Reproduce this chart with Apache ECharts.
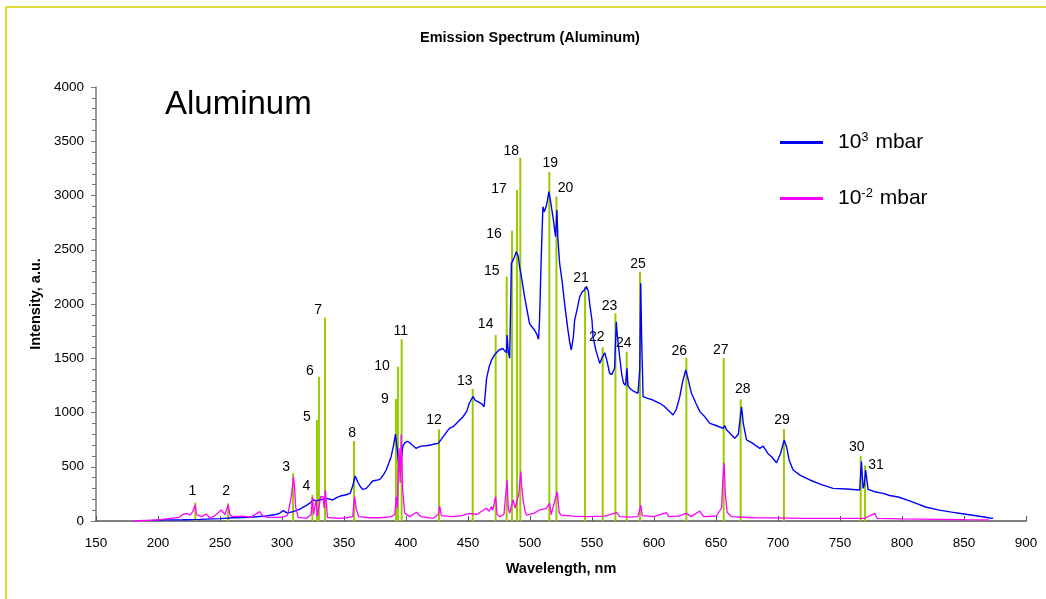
<!DOCTYPE html>
<html>
<head>
<meta charset="utf-8">
<script src="https://cdn.jsdelivr.net/npm/echarts@6/dist/echarts.min.js"></script>
<style>
  html, body { margin: 0; padding: 0; background: #fff; }
  #chart { width: 1046px; height: 599px; }
</style>
</head>
<body>
<div id="chart"></div>
<script>
// 10^3 mbar spectrum (blue)
const highWl = [195, 206, 220, 234, 250, 261, 274, 287, 295, 298, 301, 304, 309, 314, 320, 323, 325, 328, 330, 333, 336, 341, 344, 347, 351, 355, 357, 359, 361, 363, 365, 368, 371, 373, 376, 379, 382, 384, 386, 388, 390, 391.5, 393, 394.5, 396, 397.5, 399, 401, 403, 405, 408, 412, 416, 420, 422, 426, 428, 430, 435, 438, 442, 446, 449, 451, 454, 456, 458, 461, 463, 465, 467, 469, 472, 475, 478, 481, 481.5, 482.5, 483.6, 485, 487, 489, 490.5, 491.6, 493.5, 495.6, 497.5, 499.6, 501.5, 503.7, 505.5, 506.9, 507.7, 509, 510.4, 511.5, 513.1, 514, 515.2, 516.5, 518.5, 520.6, 521.7, 522.5, 523.9, 526, 527.9, 530.6, 532, 533.3, 535, 536, 538, 540.1, 542, 544, 545.5, 547, 548.1, 550, 550.8, 553, 556.2, 558, 560.2, 562, 564.2, 566, 568.2, 569.6, 570.5, 572.3, 574, 575.5, 577, 578.2, 579, 580.4, 583, 587.1, 588.5, 589.3, 590, 591.2, 595, 599.2, 604.6, 608, 611.3, 615.4, 618, 620.8, 623, 625.6, 627, 630.2, 634, 637, 641, 645, 650, 655.8, 657, 658.5, 662, 665.2, 668, 670.6, 672, 674.6, 679, 685.3, 688, 692, 695, 698.8, 702, 705, 707, 709, 712.2, 718, 725.7, 735, 744.5, 755, 765.9, 767.3, 768.6, 769.5, 770.7, 772.6, 778, 784.7, 790, 797, 805, 812, 819, 830, 840, 850, 860, 871, 873.5];
const highI = [5, 10, 12, 15, 22, 30, 34, 46, 60, 71, 95, 74, 86, 108, 147, 170, 194, 185, 194, 200, 209, 194, 215, 230, 240, 255, 322, 415, 362, 320, 292, 301, 340, 369, 375, 384, 430, 470, 530, 593, 700, 800, 650, 480, 560, 690, 720, 735, 722, 700, 670, 690, 694, 700, 707, 716, 746, 777, 854, 869, 915, 961, 1010, 1085, 1146, 1110, 1100, 1080, 1053, 1315, 1420, 1484, 1540, 1576, 1590, 1551, 1714, 1560, 1500, 2375, 2420, 2482, 2440, 2344, 2220, 2067, 1950, 1822, 1790, 1760, 1720, 1675, 1852, 2400, 2897, 2850, 2900, 2950, 3035, 2950, 2805, 2620, 2866, 2600, 2375, 2200, 2006, 1760, 1650, 1576, 1700, 1852, 1950, 2067, 2110, 2130, 2160, 2120, 2006, 1850, 1700, 1580, 1453, 1500, 1551, 1480, 1361, 1350, 1407, 1837, 1700, 1514, 1350, 1269, 1250, 1407, 1250, 1223, 1200, 1177, 1400, 2191, 1700, 1146, 1130, 1115, 1085, 1060, 1023, 977, 1030, 1146, 1280, 1392, 1330, 1177, 1080, 1008, 960, 900, 880, 854, 880, 840, 800, 762, 800, 1053, 900, 747, 720, 670, 690, 620, 590, 537, 620, 747, 680, 560, 470, 420, 378, 335, 301, 295, 286, 547, 301, 330, 470, 292, 270, 255, 235, 221, 190, 160, 129, 100, 82, 65, 48, 28, 25];

// 10^-2 mbar spectrum (magenta)
const lowWl = [180, 190, 200, 210, 217, 220, 223, 226, 228, 230, 231, 235, 239, 242, 246, 251, 254, 256.6, 258, 260, 268, 275, 282, 285, 290, 298, 302, 304.5, 307.5, 309.3, 310.2, 311, 313, 320, 323.5, 324.5, 325.5, 327.5, 328.5, 330, 331.2, 333.1, 334, 335, 336.6, 340, 346, 352, 357, 358.5, 360, 362, 370, 380, 388, 391, 392.2, 393, 394.4, 395.3, 396.2, 397.2, 399, 403, 408.4, 412, 421.8, 426, 427.2, 428.5, 437.9, 445, 451.4, 457, 464.8, 467, 468.9, 470, 472.3, 473.5, 475.6, 479, 481.5, 482.5, 483.6, 486.3, 488, 489.5, 491, 492.5, 493.5, 494.4, 496, 497.1, 503, 507.7, 513.1, 515.8, 517, 518.5, 522, 523.5, 525, 535, 545.5, 560, 570, 572.3, 580, 587, 589.3, 590.5, 600, 610, 612, 620, 626, 630, 636.9, 640, 650.3, 654.5, 655.5, 656.5, 657.5, 659, 662.4, 680, 700, 720, 750, 770, 778, 780, 800, 830, 850, 870];
const lowI = [0, 5, 10, 25, 34, 60, 71, 55, 86, 150, 60, 40, 65, 25, 50, 101, 60, 147, 60, 40, 45, 35, 86, 40, 34, 34, 40, 55, 224, 408, 300, 132, 34, 25, 60, 220, 60, 194, 40, 40, 224, 224, 120, 286, 34, 30, 25, 30, 40, 224, 101, 40, 30, 30, 40, 60, 224, 120, 670, 350, 800, 300, 71, 40, 80, 40, 25, 60, 138, 50, 40, 50, 71, 60, 117, 90, 132, 100, 224, 60, 40, 60, 378, 120, 71, 194, 120, 132, 250, 455, 300, 194, 90, 55, 70, 101, 117, 163, 60, 55, 270, 80, 55, 45, 40, 45, 77, 40, 35, 40, 147, 50, 40, 77, 40, 45, 71, 40, 92, 40, 46, 120, 380, 537, 250, 80, 40, 30, 28, 25, 25, 25, 71, 25, 20, 15, 12, 10];

// identified emission lines (green)
const lineLabels = ['1', '2', '3', '4', '5', '6', '7', '8', '9', '10', '11', '12', '13', '14', '15', '16', '17', '18', '19', '20', '21', '22', '23', '24', '25', '26', '27', '28', '29', '30', '31'];
const lineWl = [230.1, 256.6, 308.9, 324.5, 328.2, 329.8, 334.7, 358.1, 391.9, 393.5, 396.5, 426.6, 453.8, 472.3, 481.2, 485.5, 489.5, 492.2, 515.6, 521.3, 544.4, 558.6, 568.9, 578.0, 588.7, 626.1, 656.2, 669.9, 704.8, 766.7, 770.2];
const lineI = [170, 163, 440, 240, 930, 1330, 1874, 737, 1124, 1422, 1675, 845, 1217, 1714, 2252, 2676, 3051, 3349, 3220, 2990, 2160, 1601, 1914, 1561, 2298, 1505, 1505, 1122, 848, 599, 513];

// label placement relative to the top of each line (styling only)
const labelDx = [-3, -2, -7, -6, -10, -9, -7, -2, -11, -16, -1, -5, -8, -10, -15, -18, -18, -9, 1, 9, -4, -6, -6, -3, -2, -7, -3, 2, -2, -4, 11];
const labelDy = [-11, -12, -6, -9, -3, -6, -8, -8, 0, -1, -8, -9, -8, -11, -6, 3, -1, -6, -8, -8, -8, -10, -7, -8, -8, -7, -8, -10, -9, -9, 0];

const highData = highWl.map((w, i) => [w, highI[i]]);
const lowData = lowWl.map((w, i) => [w, lowI[i]]);
const lineData = lineWl.map((w, i) => [w, lineI[i]]);

const FONT = '"Liberation Sans", Arial, sans-serif';

const chart = echarts.init(document.getElementById('chart'));

const option = {
  backgroundColor: '#fff',
  animation: false,
  textStyle: { fontFamily: FONT },
  title: [
    {
      text: 'Emission Spectrum (Aluminum)',
      left: 415,
      top: 25,
      textStyle: { fontSize: 14.5, fontWeight: 'bold', color: '#000', fontFamily: FONT }
    },
    {
      text: 'Aluminum',
      left: 160,
      top: 83,
      textStyle: { fontSize: 33, fontWeight: 'normal', color: '#000', fontFamily: FONT }
    }
  ],
  legend: {
    orient: 'vertical',
    left: 775,
    top: 126,
    itemWidth: 43,
    itemHeight: 3,
    itemGap: 34,
    icon: 'rect',
    data: ['high', 'low'],
    formatter: name => name === 'high' ? '10{sup|3} mbar' : '10{sup|-2} mbar',
    textStyle: {
      fontSize: 21,
      color: '#000',
      padding: [0, 0, 0, 10],
      rich: {
        sup: { fontSize: 13, verticalAlign: 'top', padding: [0, 1, 10, 0] }
      }
    }
  },
  grid: { left: 96, right: 20, top: 87, bottom: 78 },
  xAxis: {
    type: 'value',
    min: 150,
    max: 900,
    interval: 50,
    name: 'Wavelength, nm',
    nameLocation: 'middle',
    nameGap: 40,
    nameTextStyle: { fontSize: 14.5, fontWeight: 'bold', color: '#000' },
    axisLine: { lineStyle: { color: '#555', width: 1.5 } },
    axisTick: { inside: true, length: 5, lineStyle: { color: '#555' } },
    axisLabel: { fontSize: 13.5, color: '#000', margin: 15 },
    splitLine: { show: false }
  },
  yAxis: {
    type: 'value',
    min: 0,
    max: 4000,
    interval: 500,
    name: 'Intensity, a.u.',
    nameLocation: 'middle',
    nameGap: 40,
    nameTextStyle: { fontSize: 14.5, fontWeight: 'bold', color: '#000' },
    axisLine: { show: true, lineStyle: { color: '#777', width: 1.5 } },
    axisTick: { show: true, length: 5, lineStyle: { color: '#777' } },
    minorTick: { show: true, splitNumber: 5, length: 4, lineStyle: { color: '#777' } },
    axisLabel: { fontSize: 13.5, color: '#000', margin: 12, formatter: v => String(v) },
    splitLine: { show: false }
  },
  graphic: [
    {
      type: 'rect',
      shape: { x: 6, y: 7, width: 1100, height: 700 },
      style: { fill: 'none', stroke: '#dede3a', lineWidth: 2 },
      silent: true
    }
  ],
  series: [
    {
      name: 'lines',
      type: 'custom',
      z: 1,
      data: lineData,
      renderItem: (params, api) => {
        const i = params.dataIndex;
        const p0 = api.coord([api.value(0), 0]);
        const p1 = api.coord([api.value(0), api.value(1)]);
        return {
          type: 'group',
          children: [
            {
              type: 'line',
              shape: { x1: p0[0], y1: p0[1], x2: p1[0], y2: p1[1] },
              style: { stroke: '#99cc00', lineWidth: 2 }
            },
            {
              type: 'text',
              x: p1[0] + labelDx[i],
              y: p1[1] + labelDy[i],
              style: {
                text: lineLabels[i],
                fill: '#000',
                font: '14px ' + FONT,
                align: 'center',
                verticalAlign: 'middle'
              }
            }
          ]
        };
      }
    },
    {
      name: 'high',
      type: 'line',
      z: 2,
      data: highData,
      showSymbol: false,
      color: '#0000ff',
      lineStyle: { color: '#0000ff', width: 1.4 }
    },
    {
      name: 'low',
      type: 'line',
      z: 3,
      data: lowData,
      showSymbol: false,
      color: '#ff00ff',
      lineStyle: { color: '#ff00ff', width: 1.3 }
    }
  ]
};

chart.setOption(option);
</script>
</body>
</html>
